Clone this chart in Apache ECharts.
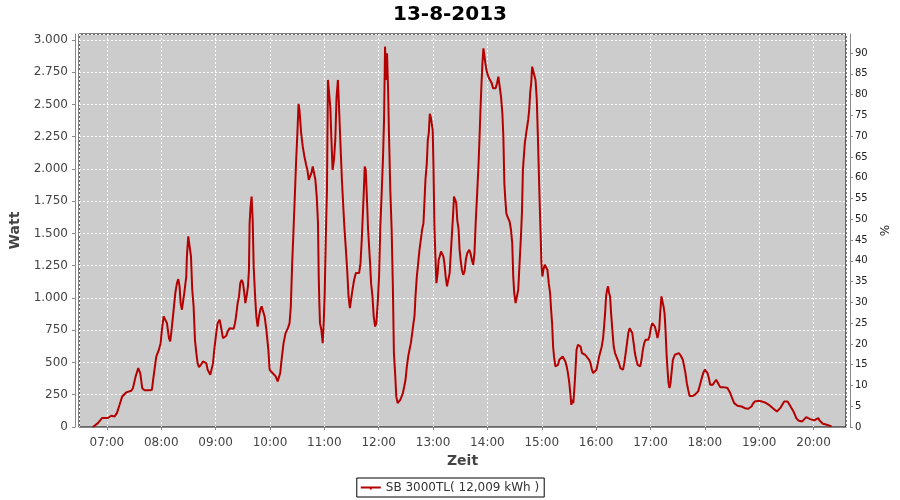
<!DOCTYPE html>
<html><head><meta charset="utf-8">
<script src="https://cdn.jsdelivr.net/npm/echarts@6/dist/echarts.min.js"></script>
<style>html,body{margin:0;padding:0;background:#fff}#c{width:900px;height:500px}</style>
</head><body><div id="c"></div>
<script>
// minutes since midnight (13-8-2013) and power in Watt
const minutes = [404.5,410.1,414.8,421.1,424.8,428.5,431.0,434.0,436.9,441.3,446.9,448.7,451.7,454.6,456.8,459.0,461.6,467.1,469.7,471.5,474.5,477.4,479.3,480.7,482.6,484.4,486.3,488.5,489.9,491.4,493.3,495.5,497.3,498.8,500.2,501.4,502.8,503.9,505.4,507.6,508.3,509.8,511.3,512.8,514.2,515.7,517.2,518.7,520.1,521.6,523.8,526.0,528.2,529.7,531.2,534.1,535.6,537.1,538.5,540.7,542.2,544.4,545.9,548.1,550.3,551.8,553.3,555.5,557.7,559.9,561.4,562.8,564.3,565.8,567.2,568.7,570.2,571.7,572.8,574.2,575.7,576.8,577.5,578.6,579.7,580.9,582.0,583.4,584.9,586.4,587.9,589.3,590.8,592.3,594.1,596.0,598.2,599.6,601.8,604.0,606.3,608.5,609.9,
611.3,612.8,615.0,617.2,619.8,621.6,623.0,624.5,626.0,627.4,628.9,630.4,631.5,632.6,634.4,636.2,638.0,639.9,641.3,642.8,644.3,645.7,647.2,648.7,650.1,651.6,653.0,653.8,654.5,655.2,656.7,658.2,659.3,660.4,661.8,662.9,664.0,665.5,666.6,667.7,669.1,670.6,672.1,673.5,675.0,676.5,677.9,679.4,680.9,682.3,683.8,685.2,686.7,688.2,689.6,691.1,692.9,694.8,696.6,698.4,699.9,701.3,702.4,703.5,704.6,705.7,707.2,708.3,709.4,710.5,711.6,713.1,714.5,716.0,717.4,718.9,720.4,721.8,723.3,724.8,725.9,727.0,728.1,729.2,730.3,731.4,732.8,734.3,735.7,736.8,738.3,739.4,740.9,742.3,743.8,745.3,746.7,748.2,749.6,751.1,752.6,754.0,755.5,757.0,758.4,759.5,760.6,762.1,763.6,765.0,766.5,767.9,769.4,770.1,771.6,773.1,774.2,775.3,776.4,777.5,778.6,779.6,780.4,781.5,782.6,783.7,785.1,786.2,787.3,788.8,789.9,791.4,792.5,793.9,795.4,797.2,798.3,799.8,800.9,802.0,803.1,804.5,805.6,806.7,808.2,809.3,810.4,811.8,813.3,814.8,816.2,817.7,
819.9,821.3,822.8,824.3,825.7,827.2,828.7,830.1,831.2,832.3,833.4,834.5,835.6,836.7,837.8,838.9,840.4,841.8,843.3,844.8,846.2,847.7,849.1,850.6,852.1,853.5,855.0,856.5,857.6,858.7,859.8,860.9,862.0,863.4,864.5,866.0,867.4,868.5,869.6,871.1,872.6,874.0,875.5,877.0,878.1,879.2,880.2,881.3,882.8,883.9,885.0,886.1,887.2,888.3,889.4,890.5,891.6,893.1,894.5,895.6,896.7,897.8,898.9,899.6,900.7,901.8,903.3,904.8,906.2,907.7,909.2,910.3,911.4,912.5,913.5,915.0,916.5,917.9,919.4,920.9,923.1,924.5,926.0,927.5,928.9,930.4,931.5,932.6,933.7,934.8,935.9,937.0,938.4,939.9,941.4,942.8,944.3,945.8,947.9,950.1,952.3,953.8,955.3,956.7,958.9,960.4,961.9,963.3,964.8,966.2,967.7,968.8,969.9,971.0,972.1,973.2,974.3,975.4,976.5,977.9,979.4,980.9,982.3,983.8,985.3,986.7,988.2,989.7,991.1,992.6,994.1,995.5,997.0,998.4,999.9,1001.4,1002.8,1004.3,1005.8,1007.2,1008.7,1010.1,1011.6,1013.1,1014.5,1016.0,1017.5,1018.9,1020.4,1021.9,1023.3,1024.8,1026.2,1027.7,
1028.5,1029.6,1030.7,1032.1,1033.3,1034.4,1035.5,1036.6,1037.7,1038.8,1039.9,1041.0,1042.1,1043.2,1044.7,1046.9,1049.1,1051.3,1053.5,1055.7,1057.2,1058.6,1060.1,1061.6,1063.1,1064.5,1066.7,1069.0,1071.2,1072.6,1074.1,1075.6,1077.1,1078.5,1080.0,1081.5,1082.9,1084.4,1085.9,1087.4,1088.8,1090.3,1092.5,1094.0,1095.5,1096.9,1100.6,1105.0,1106.5,1108.0,1109.4,1110.9,1112.4,1113.9,1116.1,1120.5,1122.7,1124.2,1127.9,1130.1,1131.5,1133.0,1135.2,1137.4,1139.6,1141.8,1144.0,1146.3,1148.5,1150.7,1152.9,1155.1,1157.3,1159.5,1161.0,1163.2,1165.4,1167.6,1169.8,1171.3,1173.5,1175.7,1177.9,1179.4,1180.9,1183.1,1187.5,1189.7,1191.9,1194.1,1196.3,1198.5,1200.7,1202.9,1205.2,1206.6,1208.1,1210.3,1212.4,1214.7,1216.9,1219.9];
const watts = [0,30,70,70,87,82,108,172,237,268,281,301,391,456,418,301,284,284,289,391,546,599,650,753,857,870,805,689,663,753,883,1038,1115,1146,1090,960,909,922,1038,1167,1322,1477,1464,1322,1064,935,676,573,495,464,482,508,513,495,444,405,392,495,599,728,805,831,779,689,682,707,741,766,753,761,805,870,960,1012,1115,1141,1115,1038,960,1012,1090,1219,1580,1709,1786,1606,1244,1038,857,779,857,909,935,922,857,753,599,444,426,418,392,353,340,
418,521,650,728,766,805,935,1270,1529,1786,2070,2302,2505,2453,2277,2173,2096,2032,1993,1916,1942,1967,2019,2032,1916,1786,1580,1167,960,805,753,650,805,1038,1529,1838,2690,2690,2479,2251,1993,2070,2225,2561,2690,2427,2173,1916,1709,1529,1373,1219,1012,922,935,1064,1141,1193,1180,1193,1270,1451,1632,1813,2019,1993,1735,1529,1399,1270,1115,1012,857,779,805,960,1167,1554,1813,2096,2380,2948,2690,2897,2639,2251,1838,1529,1064,573,392,237,185,190,211,237,263,314,366,470,547,599,650,728,805,857,1012,1167,1270,1373,1451,1529,1580,1683,1916,2045,2225,2277,2427,2401,2388,2303,2045,1554,1322,1115,1193,1296,1322,1361,1373,1322,1270,1167,1090,1090,1193,1373,1503,1632,1786,1761,1735,1606,1529,1373,1296,1219,1180,1206,1296,1347,
1373,1347,1296,1257,1347,1606,1813,2019,2225,2453,2651,2819,2935,2922,2819,2768,2729,2703,2690,2664,2625,2612,2625,2664,2716,2703,2561,2432,2251,1889,1760,1657,1632,1619,1593,1529,1425,1167,1038,960,973,1064,1270,1477,1657,1993,2096,2200,2277,2329,2380,2458,2587,2664,2793,2806,2793,2690,2535,2277,1993,1709,1451,1270,1167,1219,1257,1270,1219,1115,1038,909,805,624,547,470,457,482,521,534,547,534,508,470,418,340,263,172,211,185,289,418,599,637,637,624,573,560,560,547,521,495,444,418,413,444,495,547,586,624,689,779,883,1012,1064,1090,1038,1012,883,753,624,573,547,521,495,457,444,444,495,573,650,728,766,766,728,650,573,521,482,470,470,521,599,650,676,676,676,702,766,805,805,779,741,689,
676,753,883,1012,1012,935,883,753,573,444,340,302,340,418,521,560,573,573,552,521,470,418,340,289,241,237,241,250,263,276,314,353,392,423,444,439,418,379,327,320,327,345,366,353,327,309,309,302,289,263,237,211,185,172,164,159,154,146,141,146,159,180,198,206,203,198,195,190,185,172,159,146,133,120,125,146,172,198,211,198,172,146,120,95,69,51,43,56,77,77,61,56,51,64,69,51,36,25,22,17,10,5];
const chartTitle = '13-8-2013';
const seriesName = 'SB 3000TL( 12,009 kWh )';
const xName = 'Zeit', yName = 'Watt', y2Name = '%';
const xMinMinute = 389.2, xMaxMinute = 1235.8;
const yMax = 3046, y2Max = 94.6;

const base = new Date(2013, 7, 13, 0, 0, 0).getTime();
const data = minutes.map((m, i) => [base + m * 60000, watts[i]]);
const font = 'DejaVu Sans';
const chart = echarts.init(document.getElementById('c'), null, {renderer: 'canvas'});
chart.setOption({
  animation: false,
  backgroundColor: '#fff',
  title: {text: chartTitle, left: 'center', top: 0,
    textStyle: {fontFamily: font, fontWeight: 'bold', fontSize: 20, color: '#000'}},
  legend: {bottom: 3, left: 'center', data: [{name: seriesName}],
    borderColor: '#000', borderWidth: 1, padding: [4, 5, 3, 4], itemGap: 5,
    icon: 'path://M0,3 L20,3 L20,5 L11,5 L11,6 L9,6 L9,5 L0,5 Z', itemWidth: 20, itemHeight: 5,
    textStyle: {fontFamily: font, fontSize: 12, color: '#333'}},
  grid: {left: 79, right: 52, top: 34, bottom: 73, show: true,
    backgroundColor: '#cccccc', borderColor: '#000', borderWidth: 1},
  xAxis: {type: 'time', min: base + xMinMinute * 60000, max: base + xMaxMinute * 60000,
    minInterval: 3600000, maxInterval: 3600000, offset: 4,
    name: xName, nameLocation: 'middle', nameGap: 23,
    nameTextStyle: {fontFamily: font, fontSize: 14, fontWeight: 'bold', color: '#444'},
    axisLine: {lineStyle: {color: '#888'}},
    axisTick: {length: 3, lineStyle: {color: '#888'}},
    axisLabel: {formatter: '{HH}:{mm}', fontFamily: font, fontSize: 12, color: '#444', margin: 6,
      showMinLabel: false, showMaxLabel: false},
    splitLine: {show: true, lineStyle: {color: '#fff', type: [2, 2], width: 1}}},
  yAxis: [
    {type: 'value', min: 0, max: yMax, interval: 250, offset: 4,
      name: yName, nameLocation: 'middle', nameGap: 49,
      nameTextStyle: {fontFamily: font, fontSize: 14, fontWeight: 'bold', color: '#444'},
      axisLine: {show: true, lineStyle: {color: '#888'}},
      axisTick: {show: true, length: 3, lineStyle: {color: '#888'}},
      axisLabel: {fontFamily: font, fontSize: 12, color: '#444', margin: 7, showMaxLabel: false,
        formatter: v => String(v).replace(/\B(?=(\d{3})+(?!\d))/g, '.')},
      splitLine: {show: true, lineStyle: {color: '#fff', type: [2, 2], width: 1}}},
    {type: 'value', min: 0, max: y2Max, interval: 5, offset: 4, position: 'right',
      name: y2Name, nameLocation: 'middle', nameGap: 30,
      nameTextStyle: {fontFamily: font, fontSize: 12, color: '#222'},
      axisLine: {show: true, lineStyle: {color: '#888'}},
      axisTick: {show: true, length: 3, lineStyle: {color: '#888'}},
      axisLabel: {fontFamily: font, fontSize: 10, color: '#222', margin: 5, showMaxLabel: false},
      splitLine: {show: false}}
  ],
  series: [{name: seriesName, type: 'line', data: data, showSymbol: false, symbol: 'none',
    sampling: null, lineStyle: {color: '#b40000', width: 2}, itemStyle: {color: '#b40000'}}]
});
</script></body></html>
